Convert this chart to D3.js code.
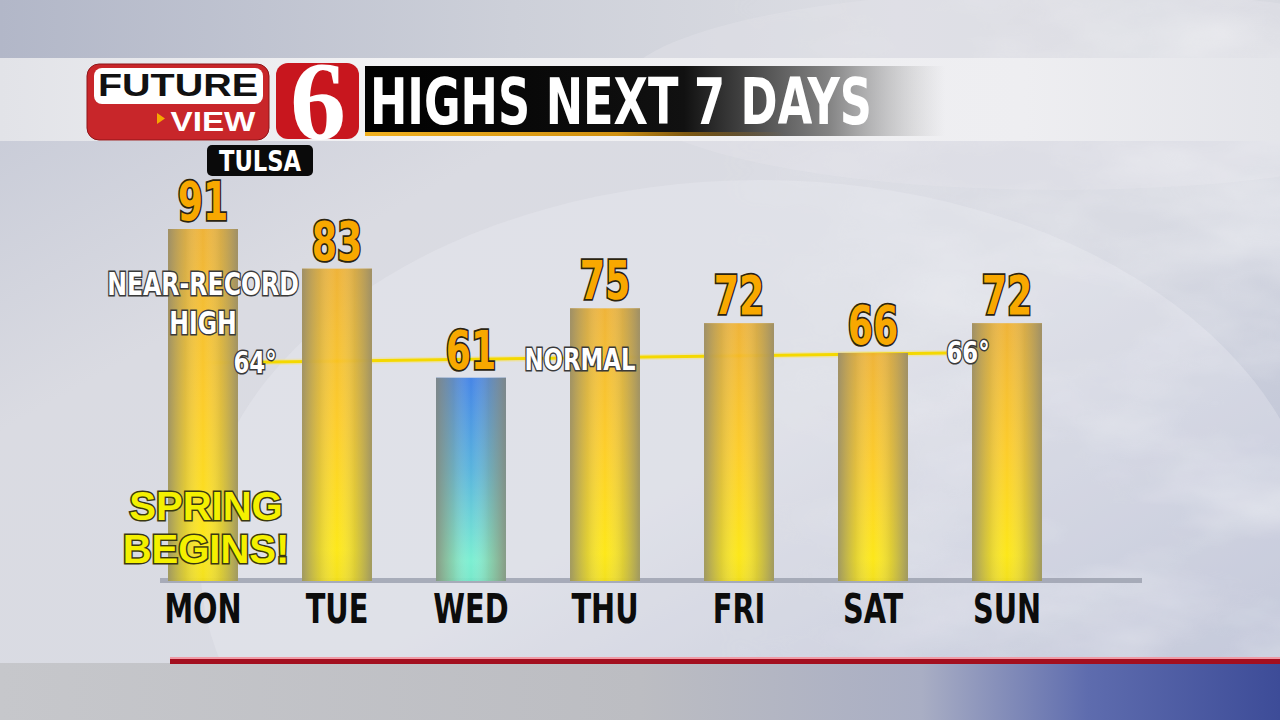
<!DOCTYPE html>
<html>
<head>
<meta charset="utf-8">
<script src="https://cdn.jsdelivr.net/npm/d3@7"></script>
<style>
  body { margin: 0; overflow: hidden; background: #d8dae2; }
  svg { display: block; }
  .cond { font-family: "Liberation Sans Narrow", "DejaVu Sans Condensed", "Arial Narrow", sans-serif; font-weight: bold; }
  .wide { font-family: "Liberation Sans", Arial, sans-serif; font-weight: bold; }
</style>
</head>
<body>
<div id="chart-area"></div>
<script>
// chart data
var days = ["MON", "TUE", "WED", "THU", "FRI", "SAT", "SUN"];
var highs = [91, 83, 61, 75, 72, 66, 72];
var coldDays = ["WED"];
var normalHighs = [64, 66];           // normal high at start / end of the week
var normalLabels = ["64°", "66°"];
var title = "HIGHS NEXT 7 DAYS";
var city = "TULSA";

var width = 1280, height = 720;

var svg = d3.select("#chart-area")
    .append("svg")
    .attr("width", width)
    .attr("height", height);

var defs = svg.append("defs");

function linGrad(id, x1, y1, x2, y2, stops) {
    var g = defs.append("linearGradient").attr("id", id)
        .attr("x1", x1).attr("y1", y1).attr("x2", x2).attr("y2", y2);
    stops.forEach(function(s) {
        g.append("stop").attr("offset", s[0]).attr("stop-color", s[1])
            .attr("stop-opacity", s[2] === undefined ? 1 : s[2]);
    });
    return g;
}

// background gradients
linGrad("bgMain", 0, 0, 1, 1, [[0, "#c2c6d4"], [0.3, "#dadbe2"], [0.6, "#d9dbe3"], [1, "#aeb5cd"]]);
linGrad("bgTop", 0, 0, 1, 0, [[0, "#b2b7c8"], [0.4, "#cdd0d9"], [0.7, "#dcdde3"], [1, "#d6d8df"]]);
linGrad("band", 0, 0, 1, 0, [[0, "#e2e3e8"], [0.3, "#f2f2f4"], [0.8, "#eeeef1"], [1, "#e4e5ea"]]);
linGrad("bottomBand", 0, 0, 1, 0, [[0, "#c6c7cb"], [0.5, "#bcbdc2"], [0.72, "#a9aec4"], [0.85, "#5e6cae"], [1, "#3d4c98"]]);
linGrad("titleBar", 0, 0, 1, 0, [[0, "#000", 1], [0.55, "#111", 1], [0.8, "#777", 0.9], [1, "#aaa", 0]]);
linGrad("titleStripe", 0, 0, 1, 0, [[0, "#f0b020", 1], [0.6, "#d09010", 1], [1, "#c08010", 0]]);
linGrad("goldV", 0, 0, 0, 1, [[0, "#f0b02c"], [0.5, "#ffcc1c"], [0.9, "#ffe80a"], [1, "#f4e010"]]);
linGrad("coldV", 0, 0, 0, 1, [[0, "#3a7ee6"], [0.45, "#4fb0dc"], [0.9, "#74f0d0"], [1, "#70e8c8"]]);
linGrad("edges", 0, 0, 1, 0, [[0, "#8a8672", 0.8], [0.25, "#a09a70", 0.3], [0.5, "#ffffff", 0], [0.75, "#a09a70", 0.3], [1, "#8a8672", 0.8]]);
linGrad("normalFade", 0, 0, 1, 0, [[0, "#f4d800", 0], [0.06, "#f4d800", 1], [1, "#f4d800", 1]]);

// clouds
var cf = defs.append("filter").attr("id", "clouds").attr("x", 0).attr("y", 0).attr("width", 1).attr("height", 1);
cf.append("feTurbulence").attr("type", "fractalNoise").attr("baseFrequency", "0.006 0.014").attr("numOctaves", 4).attr("seed", 7);
cf.append("feColorMatrix").attr("type", "matrix")
    .attr("values", "0 0 0 0 1  0 0 0 0 1  0 0 0 0 1  1.6 0 0 0 -0.6");
linGrad("cloudMask", 0, 0, 1, 0, [[0, "#fff", 0], [0.55, "#fff", 0], [0.8, "#fff", 0.8], [1, "#fff", 1]]);
defs.append("mask").attr("id", "cmask").append("rect")
    .attr("width", width).attr("height", height).attr("fill", "url(#cloudMask)");

var bg = svg.append("g");
bg.append("rect").attr("width", width).attr("height", height).attr("fill", "url(#bgMain)");
bg.append("rect").attr("width", width).attr("height", 60).attr("fill", "url(#bgTop)");
// soft swooshes
bg.append("ellipse").attr("cx", 760).attr("cy", 560).attr("rx", 560).attr("ry", 380)
    .attr("fill", "#eef0f4").attr("opacity", 0.3);
bg.append("ellipse").attr("cx", 1060).attr("cy", 90).attr("rx", 440).attr("ry", 100)
    .attr("fill", "#e2e3e8").attr("opacity", 0.45);
bg.append("rect").attr("x", 0).attr("y", 0).attr("width", width).attr("height", 663)
    .attr("filter", "url(#clouds)").attr("mask", "url(#cmask)").attr("opacity", 0.45);
bg.append("rect").attr("y", 58).attr("width", width).attr("height", 83).attr("fill", "url(#band)");
bg.append("rect").attr("y", 663).attr("width", width).attr("height", 57).attr("fill", "url(#bottomBand)");

// scales
var x = d3.scaleBand()
    .domain(days)
    .range([136, 1074])
    .paddingInner(0.478)
    .paddingOuter(0.239);

var y = d3.scaleLinear()
    .domain([20, 91])
    .range([581, 229]);

var bw = x.bandwidth();

// condensed text: the installed condensed face is wider, so squeeze it horizontally
function squeezed(parent, txt, cx, cy, size, sx) {
    return parent.append("text")
        .attr("class", "cond")
        .attr("transform", "translate(" + cx + "," + cy + ") scale(" + sx + ",1)")
        .attr("text-anchor", "middle")
        .attr("font-size", size)
        .text(txt);
}

// baseline
svg.append("rect").attr("x", 160).attr("y", 578).attr("width", 982).attr("height", 5)
    .attr("fill", "#9ea2b0").attr("opacity", 0.85);

// normal line
var nx = [x("MON") + bw / 2, x("SUN") - 25];
svg.append("line")
    .attr("x1", nx[0] + 10).attr("x2", nx[1])
    .attr("y1", y(normalHighs[0])).attr("y2", y(normalHighs[1]))
    .attr("stroke", "#f7e27a").attr("stroke-width", 6).attr("opacity", 0.45);
svg.append("path")
    .attr("d", d3.line()([[nx[0], y(normalHighs[0])], [nx[1], y(normalHighs[1])]]))
    .attr("stroke", "url(#normalFade)").attr("stroke-width", 3).attr("fill", "none");

// bars
var bars = svg.selectAll("g.bar")
    .data(highs)
    .enter().append("g")
    .attr("class", "bar");

bars.append("rect")
    .attr("x", function(d, i) { return x(days[i]); })
    .attr("y", function(d) { return y(d); })
    .attr("width", bw)
    .attr("height", function(d) { return y(20) - y(d); })
    .attr("fill", function(d, i) {
        return coldDays.indexOf(days[i]) >= 0 ? "url(#coldV)" : "url(#goldV)";
    })
    .attr("opacity", 0.93);

bars.append("rect")
    .attr("x", function(d, i) { return x(days[i]); })
    .attr("y", function(d) { return y(d); })
    .attr("width", bw)
    .attr("height", function(d) { return y(20) - y(d); })
    .attr("fill", "url(#edges)");

// value labels
highs.forEach(function(d, i) {
    squeezed(svg, d, x(days[i]) + bw / 2, y(d) - 9, 53, 0.76)
        .attr("fill", "#f8a800")
        .attr("stroke", "#2b2410")
        .attr("stroke-width", 3.5)
        .attr("paint-order", "stroke");
});

// day labels
days.forEach(function(d) {
    squeezed(svg, d, x(d) + bw / 2, 623, 40, 0.8)
        .attr("fill", "#0c0c0c");
});

// white outlined annotations
function outlined(txt, cx, cy, size) {
    squeezed(svg, txt, cx, cy, size, 0.82)
        .attr("fill", "#ffffff")
        .attr("stroke", "#3a3a3a")
        .attr("stroke-width", 3)
        .attr("paint-order", "stroke");
}
outlined("NEAR-RECORD", x("MON") + bw / 2, 295, 32);
outlined("HIGH", x("MON") + bw / 2, 334, 32);
outlined(normalLabels[0], nx[0] + 52, 373, 31);
outlined("NORMAL", x("THU") + 10, 370, 31);
outlined(normalLabels[1], nx[1] + 21, 363, 31);

// spring begins
["SPRING", "BEGINS!"].forEach(function(t, i) {
    svg.append("text")
        .attr("class", "wide")
        .attr("x", 206).attr("y", 520 + i * 43)
        .attr("text-anchor", "middle")
        .attr("font-size", 40)
        .attr("fill", "#f4f000")
        .attr("stroke", "#3a3810")
        .attr("stroke-width", 3)
        .attr("paint-order", "stroke")
        .text(t);
});

// red rule
svg.append("rect").attr("x", 170).attr("y", 657).attr("width", 1110).attr("height", 2).attr("fill", "#f09aa6");
svg.append("rect").attr("x", 170).attr("y", 659).attr("width", 1110).attr("height", 5).attr("fill", "#a30f1f");

// header: title bar
svg.append("rect").attr("x", 365).attr("y", 66).attr("width", 580).attr("height", 70).attr("fill", "url(#titleBar)");
svg.append("rect").attr("x", 365).attr("y", 132).attr("width", 420).attr("height", 4).attr("fill", "url(#titleStripe)");
svg.append("text")
    .attr("class", "cond")
    .attr("x", 370).attr("y", 124)
    .attr("font-size", 64)
    .attr("fill", "#ffffff")
    .attr("textLength", 502)
    .attr("lengthAdjust", "spacingAndGlyphs")
    .text(title);

// future view logo
var logo = svg.append("g");
logo.append("rect").attr("x", 87).attr("y", 64).attr("width", 182).attr("height", 76).attr("rx", 12)
    .attr("fill", "#c8262a").attr("stroke", "#8e1418").attr("stroke-width", 1);
logo.append("rect").attr("x", 94).attr("y", 68).attr("width", 169).attr("height", 36).attr("rx", 8)
    .attr("fill", "#ffffff");
logo.append("text").attr("class", "wide")
    .attr("x", 178).attr("y", 96).attr("text-anchor", "middle")
    .attr("font-size", 31).attr("fill", "#111")
    .attr("textLength", 160).attr("lengthAdjust", "spacingAndGlyphs")
    .text("FUTURE");
logo.append("path").attr("d", "M157,113 L165,118.5 L157,124 Z").attr("fill", "#f5a800");
logo.append("text").attr("class", "wide")
    .attr("x", 213).attr("y", 131).attr("text-anchor", "middle")
    .attr("font-size", 27).attr("fill", "#ffffff")
    .attr("textLength", 85).attr("lengthAdjust", "spacingAndGlyphs")
    .text("VIEW");

// channel 6
logo.append("rect").attr("x", 276).attr("y", 63).attr("width", 83).attr("height", 76).attr("rx", 12)
    .attr("fill", "#c8161e");
logo.append("text")
    .attr("x", 318).attr("y", 139).attr("text-anchor", "middle")
    .attr("font-family", "'Liberation Serif', 'DejaVu Serif', serif")
    .attr("font-weight", "bold")
    .attr("font-size", 112)
    .attr("fill", "#ffffff")
    .text("6");

// city tag
svg.append("rect").attr("x", 207).attr("y", 145).attr("width", 106).attr("height", 31).attr("rx", 5)
    .attr("fill", "#0a0a0a");
squeezed(svg, city, 260, 171, 28, 0.9).attr("fill", "#ffffff");
</script>
</body>
</html>
